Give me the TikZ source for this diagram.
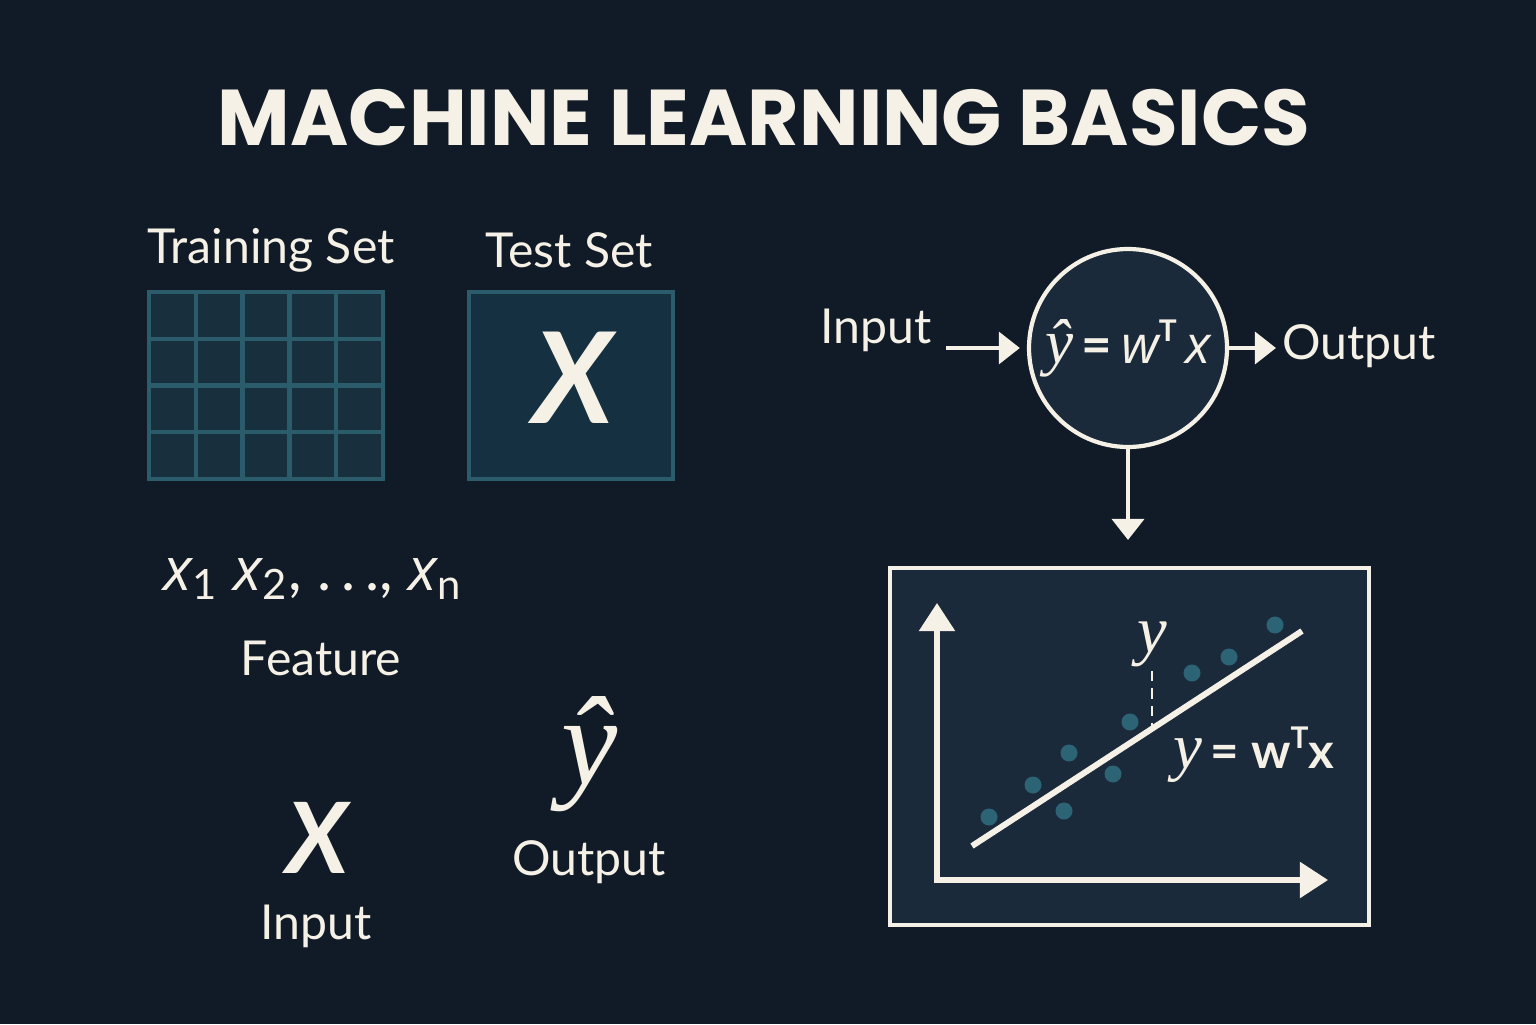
\documentclass[tikz,border=0pt]{standalone}
\usepackage{fontspec}
\setmainfont{Lato}
\newfontfamily\titlefont{Poppins}
\newfontfamily\mathsans{Open Sans}
\newfontfamily\serifit{Liberation Serif}
\usetikzlibrary{arrows.meta}
\definecolor{bgdark}{HTML}{111B27}
\definecolor{cream}{HTML}{F6F1E6}
\definecolor{gridline}{HTML}{2B5C6B}
\definecolor{gridfill}{HTML}{18303E}
\definecolor{testfill}{HTML}{153041}
\definecolor{panelfill}{HTML}{1B2A3B}
\definecolor{dotteal}{HTML}{2C6375}
\newcommand{\varx}{{\mathsans\itshape x}}
\newcommand{\yhat}{{\serifit\itshape ŷ}}
\newcommand{\supT}{\raisebox{.8ex}{\fontsize{8.5}{8.5}\selectfont\bfseries T}}
\begin{document}
\begin{tikzpicture}[
  lbl/.style={text=cream, inner sep=1pt, font=\fontsize{13.7}{16}\selectfont},
  bigsym/.style={text=cream, inner sep=1pt, font=\fontsize{28}{30}\selectfont\itshape\bfseries},
  arr/.style={draw=cream, line width=1.4pt, -{Triangle[length=6pt,width=9pt]}},
  axis/.style={draw=cream, line width=1.5pt, -{Triangle[length=8pt,width=10pt]}},
  dot/.style={fill=dotteal}]
  \fill[bgdark] (0,0) rectangle (15.36,10.24);
  \useasboundingbox (0,0) rectangle (15.36,10.24);

  % title
  \node[text=cream, font=\titlefont\bfseries\fontsize{22.5}{26}\selectfont] (title) at (7.64,9.06) {MACHINE LEARNING BASICS};

  % data sets
  \node[lbl] (trainlbl) at (2.71,7.74) {Training Set};
  \node[lbl] (testlbl) at (5.69,7.74) {Test Set};
  \foreach \i in {0,...,4}
    \foreach \j in {0,...,3}
      \draw[gridline, fill=gridfill, line width=1.2pt] (1.49+0.468*\i,5.45+0.4675*\j) rectangle ++(0.468,0.4675);
  \node[draw=gridline, fill=testfill, line width=1.2pt, minimum width=2.04cm, minimum height=1.87cm, inner sep=0] (testbox) at (5.71,6.385) {};
  \node[bigsym, font=\fontsize{36}{38}\selectfont\itshape\bfseries] (testx) at (5.73,6.46) {X};

  % features, input and output
  \node[lbl, font=\fontsize{17}{19}\selectfont] (feat) at (3.13,4.45) {\varx\textsubscript{1} \varx\textsubscript{2}, .\,.\,., \varx\textsubscript{n}};
  \node[lbl] (featlbl) at (3.21,3.66) {Feature};
  \node[bigsym] (inx) at (3.18,1.86) {X};
  \node[lbl] (inlbl) at (3.16,0.98) {Input};
  \node[text=cream, inner sep=1pt, font=\fontsize{36}{38}\selectfont] (yhat) at (5.90,2.70) {\yhat};
  \node[lbl] (outlbl) at (5.89,1.62) {Output};

  % model
  \node[circle, draw=cream, line width=1.2pt, fill=panelfill, minimum size=1.98cm, inner sep=0,
    text=cream, font=\fontsize{15}{17}\selectfont] (neuron) at (11.28,6.76)
    {{\fontsize{18}{18}\selectfont\yhat}\,{\bfseries=}\,{\mathsans\itshape w}\supT\,\varx};
  \node[lbl] (modin) at (8.76,6.94) {Input};
  \node[lbl] (modout) at (13.59,6.78) {Output};
  \coordinate (instart) at (9.46,6.76);
  \coordinate (outend) at (12.76,6.76);
  \coordinate (downend) at (11.28,4.84);
  \draw[arr] (instart) -- ([xshift=-2pt]neuron.west);
  \draw[arr] (neuron.east) -- (outend);
  \draw[arr] (neuron.south) -- (downend);

  % regression plot
  \node[draw=cream, line width=1.3pt, fill=panelfill, minimum width=4.79cm, minimum height=3.57cm, inner sep=0] (panel) at (11.295,2.775) {};
  \coordinate (O) at (9.37,1.44);
  \coordinate (ytip) at (9.37,4.21);
  \coordinate (xtip) at (13.28,1.44);
  \draw[axis] ([yshift=-0.75pt]O) -- (ytip);
  \draw[axis] ([xshift=-0.75pt]O) -- (xtip);
  \foreach \p in {(9.89,2.07),(10.33,2.39),(10.69,2.71),(10.64,2.13),(11.13,2.50),(11.30,3.02),(11.92,3.51),(12.29,3.67),(12.75,3.99)}
    \fill[dot] \p circle (0.085);
  \coordinate (fitA) at (9.72,1.78);
  \coordinate (fitB) at (13.02,3.93);
  \draw[cream, line width=1.7pt] (fitA) -- (fitB);
  \coordinate (resid) at (11.52,2.95);
  \node[text=cream, inner sep=1pt, font=\fontsize{19}{21}\selectfont\serifit\itshape] (ylbl) at (11.52,3.80) {y};
  \draw[cream, densely dashed, line width=0.4pt] (ylbl.south) -- (resid);
  \node[text=cream, inner sep=1pt, font=\fontsize{14}{17}\selectfont] (fitlbl) at (12.54,2.69) {{\fontsize{18.5}{19}\selectfont\serifit\itshape y}\,{\bfseries= w\supT x}};
\end{tikzpicture}
\end{document}
